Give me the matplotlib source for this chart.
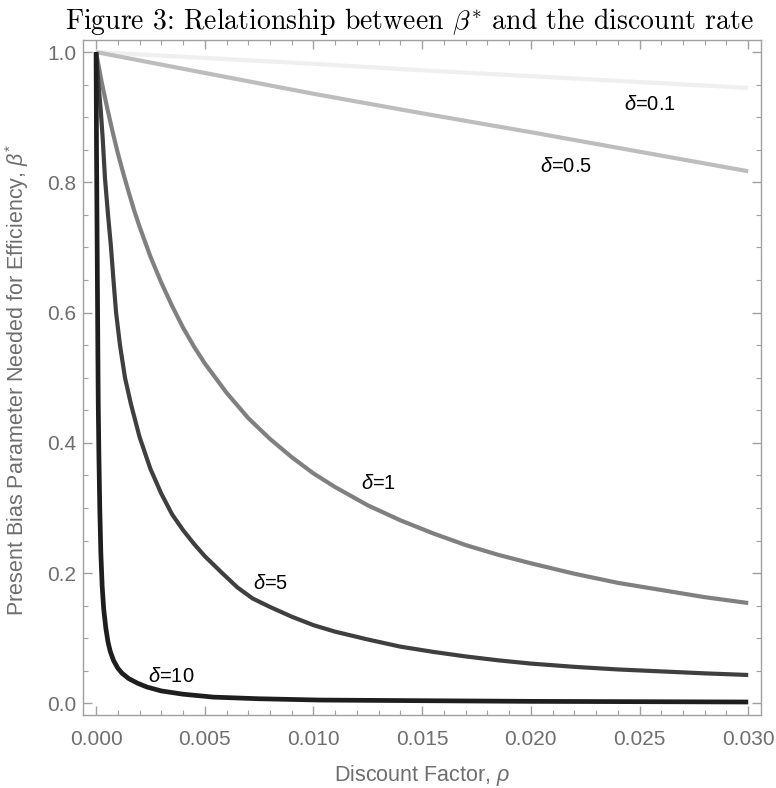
# ------------------------------------
# Figure 3 - beta* vs discount factor
# ------------------------------------

import matplotlib
matplotlib.use("Agg")
import matplotlib.pyplot as plt
from matplotlib.ticker import MultipleLocator, FormatStrFormatter

plt.rcParams["font.family"] = "Liberation Sans"
plt.rcParams["mathtext.fontset"] = "custom"
plt.rcParams["mathtext.rm"] = "Liberation Sans"
plt.rcParams["mathtext.it"] = "Liberation Sans:italic"

# ------------------------------------
# Data
# ------------------------------------

rho_d01 = [0.0, 0.005, 0.01, 0.015, 0.02, 0.025, 0.03]
beta_d01 = [1.0, 0.991, 0.982, 0.972, 0.963, 0.954, 0.945]

rho_d05 = [0.0, 0.005, 0.01, 0.015, 0.02, 0.025, 0.03]
beta_d05 = [1.0, 0.968, 0.936, 0.906, 0.877, 0.847, 0.817]

rho_d1 = [0.0, 0.00025, 0.0005, 0.00075, 0.001, 0.00125, 0.0015, 0.00175,
          0.002, 0.0025, 0.003, 0.0035, 0.004, 0.0045, 0.005, 0.006, 0.007,
          0.008, 0.009, 0.01, 0.011, 0.0125, 0.014, 0.0155, 0.017, 0.0185,
          0.02, 0.022, 0.024, 0.026, 0.028, 0.03]
beta_d1 = [1.0, 0.955, 0.916, 0.879, 0.845, 0.814, 0.785, 0.757,
           0.732, 0.686, 0.646, 0.61, 0.577, 0.548, 0.522, 0.477, 0.438,
           0.406, 0.378, 0.353, 0.332, 0.304, 0.281, 0.261, 0.243, 0.228,
           0.215, 0.199, 0.185, 0.174, 0.163, 0.154]

rho_d5 = [0.0, 0.0001, 0.00022, 0.0003, 0.00041, 0.00055, 0.00068, 0.0008,
          0.00092, 0.0011, 0.00133, 0.0016, 0.002, 0.0025, 0.003, 0.0035,
          0.004, 0.0045, 0.005, 0.0058, 0.0065, 0.0072, 0.008, 0.009, 0.01,
          0.011, 0.0125, 0.014, 0.0155, 0.017, 0.0185, 0.02, 0.022, 0.024,
          0.026, 0.028, 0.03]
beta_d5 = [1.0, 0.955, 0.908, 0.87, 0.806, 0.75, 0.703, 0.65,
           0.60, 0.55, 0.50, 0.46, 0.409, 0.36, 0.322, 0.29,
           0.266, 0.245, 0.226, 0.20, 0.178, 0.161, 0.148, 0.133, 0.12,
           0.11, 0.098, 0.087, 0.079, 0.072, 0.066, 0.061, 0.056, 0.052,
           0.049, 0.046, 0.0435]

rho_d10 = [0.0, 0.00002, 0.00005, 0.00008, 0.0001, 0.00013, 0.00017, 0.00022,
           0.00028, 0.00035, 0.00045, 0.00055, 0.00065, 0.0008, 0.001, 0.0012,
           0.0015, 0.0019, 0.00234, 0.003, 0.004, 0.0054, 0.0075, 0.0103,
           0.015, 0.02, 0.03]
beta_d10 = [1.0, 0.85, 0.7, 0.55, 0.46, 0.38, 0.3, 0.23,
            0.18, 0.145, 0.115, 0.094, 0.08, 0.066, 0.054, 0.046,
            0.038, 0.031, 0.025, 0.019, 0.014, 0.0095, 0.007, 0.005,
            0.004, 0.003, 0.002]

curves = [
    (rho_d01, beta_d01, "#efefef", 3.0),
    (rho_d05, beta_d05, "#bdbdbd", 3.0),
    (rho_d1, beta_d1, "#808080", 3.0),
    (rho_d5, beta_d5, "#3f3f3f", 3.0),
    (rho_d10, beta_d10, "#1e1e1e", 3.4),
]

labels = ["$\\delta$=0.1", "$\\delta$=0.5", "$\\delta$=1", "$\\delta$=5", "$\\delta$=10"]
label_x = [0.0243, 0.0204, 0.0122, 0.0072, 0.0024]
label_y = [0.920, 0.825, 0.338, 0.184, 0.041]

# ------------------------------------
# Plot
# ------------------------------------

fig = plt.figure(figsize=(7.76, 7.88), dpi=100)
ax = fig.add_axes([0.107, 0.0926, 0.874, 0.857])

for x, y, c, lw in curves:
    ax.plot(x, y, color=c, linewidth=lw, solid_capstyle="butt",
            solid_joinstyle="round")

for t, x, y in zip(labels, label_x, label_y):
    ax.text(x, y, t, fontsize=14.5, color="black", va="center", ha="left")

ax.set_xlim(-0.0006, 0.0306)
ax.set_ylim(-0.018, 1.019)

ax.xaxis.set_major_locator(MultipleLocator(0.005))
ax.xaxis.set_minor_locator(MultipleLocator(0.001))
ax.yaxis.set_major_locator(MultipleLocator(0.2))
ax.yaxis.set_minor_locator(MultipleLocator(0.05))
ax.xaxis.set_major_formatter(FormatStrFormatter("%.3f"))
ax.yaxis.set_major_formatter(FormatStrFormatter("%.1f"))

frame_col = "#a0a0a0"
for s in ax.spines.values():
    s.set_color(frame_col)
    s.set_linewidth(1.0)

ax.tick_params(which="both", direction="in", top=True, right=True,
               color=frame_col, labelcolor="#6e6e6e", labelsize=15)
ax.tick_params(which="major", length=6.5, width=1.0)
ax.tick_params(which="minor", length=3.4, width=0.8)
ax.tick_params(axis="x", which="major", pad=10.5)
ax.tick_params(axis="y", which="major", pad=5)

# axis titles
fig.text(422.5 / 776, 1 - 781 / 788, "Discount Factor, $\\rho$",
         fontsize=15.5, color="#6e6e6e", ha="center", va="baseline")
fig.text(17 / 776, 1 - 380 / 788,
         "Present Bias Parameter Needed for Efficiency, $\\beta^{*}$",
         fontsize=15.5, color="#6e6e6e", rotation=90, ha="center", va="center")

fig.text(0.527, 1 - 29 / 788,
         "Figure 3: Relationship between $\\beta^{*}$ and the discount rate",
         fontsize=20, family="cmr10", math_fontfamily="cm",
         ha="center", va="baseline")

plt.savefig("out.png", dpi=100)
